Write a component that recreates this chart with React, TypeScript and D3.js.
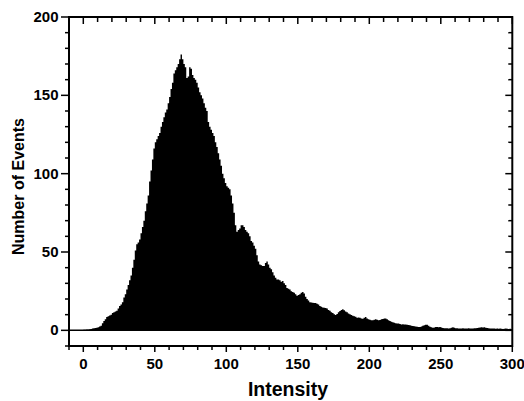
import React from "react";
import * as d3 from "d3";

// Histogram of intensities: 1-unit bins starting at 0
const binStart = 0;
const binWidth = 1;
const counts0to99 = [
  0.3, 0.4, 0.5, 0.6, 0.7, 0.9, 1.1, 1.3, 1.5, 1.7,
  2, 2.5, 3, 4.5, 6, 7, 8.5, 9, 9.5, 10,
  11, 11.5, 12, 12.5, 14, 15.5, 16.5, 18, 21, 23,
  26, 29, 32, 35, 40, 45, 51, 55, 56, 58,
  62, 66, 70, 76, 81, 86, 95, 102, 109, 116,
  120, 122, 124, 126, 130, 133, 136, 139, 141, 145,
  149, 154, 158, 164, 166, 168, 170, 173, 176, 173,
  170, 168, 161, 162, 168, 167, 163, 161, 160, 158,
  155, 152, 150, 148, 145, 142, 140, 133, 130, 128,
  126, 124, 120, 117, 113, 109, 105, 100, 97, 94,
];
const counts100to199 = [
  92, 91, 90, 86, 81, 75, 67, 63, 64, 65,
  67, 67, 66, 64, 63, 62, 60, 57, 56, 54,
  52, 48, 44, 42, 41.5, 41, 41, 43, 44, 42,
  40, 39, 37, 35, 33.5, 32.5, 32.5, 32, 31, 31.5,
  30, 29, 27, 26.5, 26, 25, 24.5, 24, 23, 22,
  22.5, 23, 24, 24.5, 23.5, 21.5, 20, 19, 18, 17.8,
  17.6, 17.5, 17.4, 17, 16.5, 15.5, 15, 14.6, 14.4, 14.2,
  14, 13, 12.5, 11.5, 11, 10.3, 9.8, 10.5, 11.5, 12.3,
  13, 13.4, 12.8, 12, 11.5, 10.8, 10.2, 9.8, 9.3, 9,
  8.6, 8.1, 8.2, 8, 7.6, 7.4, 8, 8.5, 7.6, 7,
];
const counts200to299 = [
  6.8, 6.5, 6.4, 6.8, 7, 6.7, 6.4, 6.6, 7, 7.2,
  7.5, 7.6, 7, 6.4, 6, 5.5, 5.2, 4.8, 4.5, 4.4,
  4.3, 4, 3.8, 3.9, 3.8, 3.7, 3.5, 3.4, 3.2, 3,
  2.8, 2.6, 2.5, 2.3, 2.1, 2.2, 2.5, 2.9, 3.2, 3.5,
  3.6, 3, 2.3, 2, 1.7, 1.8, 2.1, 2.1, 2, 2.1,
  1.8, 1.5, 1.4, 1.3, 1.3, 1.2, 1.4, 1.6, 1.9, 1.7,
  1.4, 1.3, 1.2, 1.2, 1.1, 1.3, 1.2, 1.1, 1.2, 1.3,
  1.2, 1.1, 1.2, 1.3, 1.4, 1.5, 1.6, 1.8, 1.9, 1.8,
  1.9, 1.7, 1.5, 1.3, 1.2, 1.1, 1.2, 1.1, 1, 1.1,
  1, 1.1, 1, 0.9, 1, 1.1, 1, 0.9, 1, 0.8,
];
const counts = [...counts0to99, ...counts100to199, ...counts200to299];

const xDomain = [-10, 300];
const yDomain = [-10, 200];
const xTickValues = d3.range(-10, 301, 10);
const xLabelValues = [0, 50, 100, 150, 200, 250, 300];
const yTickValues = d3.range(-10, 201, 10);
const yLabelValues = [0, 50, 100, 150, 200];
const xTitle = "Intensity";
const yTitle = "Number of Events";

const W = 524;
const H = 401;
const L = 69;
const R = 512.3;
const T = 17;
const B = 346;
const FONT = "'Liberation Sans', Arial, sans-serif";

export default function App() {
  const x = d3.scaleLinear().domain(xDomain).range([L, R]);
  const y = d3.scaleLinear().domain(yDomain).range([B, T]);

  const pts = counts.map((c, i) => [binStart + i * binWidth, c] as [number, number]);
  pts.push([binStart + counts.length * binWidth, counts[counts.length - 1]]);
  const area = d3
    .area<[number, number]>()
    .x((d) => x(d[0]))
    .y0(y(0))
    .y1((d) => y(d[1]))
    .curve(d3.curveStepAfter);

  const isMajorX = (v: number) => v >= 0 && v % 50 === 0;
  const isMajorY = (v: number) => v >= 0 && v % 50 === 0;

  return (
    <svg
      width={W}
      height={H}
      style={{ position: "absolute", left: 0, top: 0, background: "#fff" }}
    >
      <rect x={0} y={0} width={W} height={H} fill="#fff" />
      <path d={area(pts) || ""} fill="#000" stroke="none" />
      {/* zero line */}
      <line x1={x(-10)} x2={x(300)} y1={y(0)} y2={y(0)} stroke="#000" strokeWidth={1.5} />

      {/* bottom ticks (outward) */}
      {xTickValues.map((v) => (
        <line
          key={"bx" + v}
          x1={x(v)}
          x2={x(v)}
          y1={B}
          y2={B + (isMajorX(v) ? 6 : 4)}
          stroke="#000"
          strokeWidth={1.5}
        />
      ))}
      {/* top ticks (inward) */}
      {xTickValues.map((v) => (
        <line
          key={"tx" + v}
          x1={x(v)}
          x2={x(v)}
          y1={T}
          y2={T + (isMajorX(v) ? 7 : 5)}
          stroke="#000"
          strokeWidth={1.5}
        />
      ))}
      {/* left ticks (outward) */}
      {yTickValues.map((v) => (
        <line
          key={"ly" + v}
          x1={L - (isMajorY(v) ? 8 : 4)}
          x2={L}
          y1={y(v)}
          y2={y(v)}
          stroke="#000"
          strokeWidth={1.5}
        />
      ))}
      {/* right ticks (inward) */}
      {yTickValues.map((v) => (
        <line
          key={"ry" + v}
          x1={R - (isMajorY(v) ? 7 : 4)}
          x2={R}
          y1={y(v)}
          y2={y(v)}
          stroke="#000"
          strokeWidth={1.5}
        />
      ))}

      {/* frame */}
      <rect x={L} y={T} width={R - L} height={B - T} fill="none" stroke="#000" strokeWidth={2} />

      {xLabelValues.map((v) => (
        <text
          key={"xl" + v}
          x={x(v)}
          y={369}
          textAnchor="middle"
          fontFamily={FONT}
          fontWeight="bold"
          fontSize={15}
          fill="#000"
        >
          {v}
        </text>
      ))}
      {yLabelValues.map((v) => (
        <text
          key={"yl" + v}
          x={58.5}
          y={y(v) + 5}
          textAnchor="end"
          fontFamily={FONT}
          fontWeight="bold"
          fontSize={15}
          fill="#000"
        >
          {v}
        </text>
      ))}

      <text
        x={288}
        y={396}
        textAnchor="middle"
        fontFamily={FONT}
        fontWeight="bold"
        fontSize={19.5}
        fill="#000"
      >
        {xTitle}
      </text>
      <text
        transform="translate(23.5,186.5) rotate(-90)"
        textAnchor="middle"
        fontFamily={FONT}
        fontWeight="bold"
        fontSize={16}
        fill="#000"
      >
        {yTitle}
      </text>
    </svg>
  );
}
